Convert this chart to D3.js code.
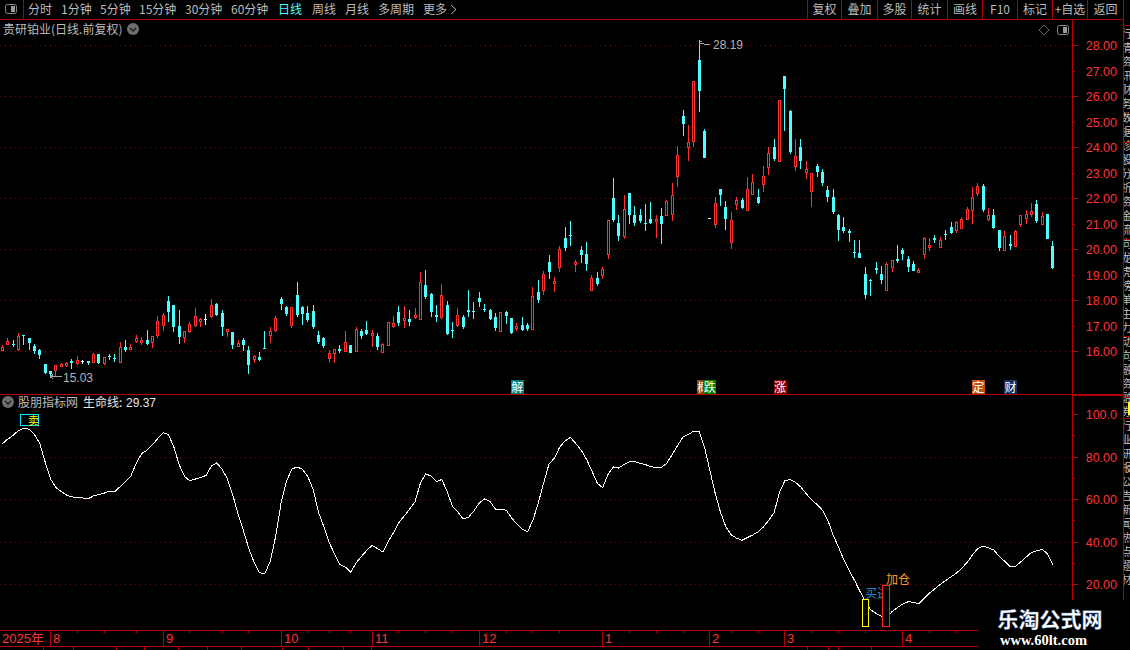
<!DOCTYPE html>
<html><head><meta charset="utf-8">
<script src="https://cdn.jsdelivr.net/npm/d3@7/dist/d3.min.js"></script>
<style>html,body{margin:0;padding:0;background:#000;overflow:hidden}svg{display:block}</style>
</head><body><svg id="c" width="1130" height="650"></svg>
<script>
const opens=[16.01,16.25,16.29,16.04,16.61,16.52,16.21,16.03,15.50,15.22,15.22,15.44,15.43,15.61,15.50,15.60,15.61,15.52,15.88,15.48,15.82,15.74,15.52,16.16,16.07,16.37,16.42,16.45,16.30,16.60,16.99,17.97,17.79,16.99,16.52,16.76,16.99,17.20,17.24,17.35,17.86,17.50,16.80,16.76,16.18,16.45,16.05,15.66,15.77,16.13,
16.60,16.77,18.05,17.74,16.99,18.21,17.74,17.50,17.58,16.64,16.52,15.70,15.90,16.09,15.97,16.25,15.97,16.80,16.84,16.68,16.60,15.90,16.21,16.95,17.54,17.25,17.27,17.31,17.23,18.60,18.25,17.43,17.31,17.82,16.84,16.99,17.35,17.61,17.58,18.09,17.66,17.62,17.35,16.76,17.54,17.31,16.90,17.03,17.03,16.84,
18.33,18.37,19.50,18.69,19.26,20.44,20.56,19.45,19.97,19.82,18.38,18.88,18.96,19.78,22.01,21.03,20.48,22.21,21.35,21.35,21.03,21.19,21.07,21.31,21.32,21.35,22.85,25.23,23.99,24.19,27.42,24.64,21.22,20.95,22.37,21.66,20.25,21.74,21.93,21.50,22.13,22.05,22.52,23.19,24.01,23.42,
26.80,25.42,23.23,24.01,22.99,22.26,23.27,23.03,22.32,22.05,21.35,20.88,20.72,19.90,19.86,19.03,18.77,19.27,19.03,18.37,19.27,19.62,19.97,19.62,19.42,19.12,19.78,20.05,20.44,20.05,20.60,20.88,20.72,20.80,21.15,21.50,22.17,22.48,21.15,21.35,20.76,19.95,20.21,20.09,20.95,21.19,21.35,21.78,20.95,21.39,20.13];
const highs=[16.22,16.51,16.45,16.71,16.64,16.52,16.29,16.09,15.50,15.22,15.46,15.53,15.58,15.70,15.80,15.66,15.62,15.92,15.90,15.77,15.90,15.90,16.35,16.45,16.28,16.63,16.55,16.84,16.60,17.39,17.49,18.17,17.82,17.62,16.80,17.15,17.70,17.31,17.46,18.05,17.90,17.62,16.88,16.76,16.45,16.52,16.21,15.86,15.97,16.80,
16.94,17.39,18.13,17.78,17.74,18.72,17.78,17.78,17.82,16.80,16.56,16.05,16.09,16.25,16.80,16.25,16.95,16.88,17.19,16.84,16.72,16.31,17.15,17.39,17.78,17.78,17.62,17.70,19.11,19.19,18.29,17.82,18.64,17.97,17.15,17.70,17.43,18.40,17.93,18.33,17.86,17.65,17.50,17.54,17.58,17.31,17.11,17.35,17.11,18.52,
18.80,19.15,19.78,18.92,20.13,20.88,21.11,19.58,20.13,20.29,18.99,19.11,19.31,21.15,22.80,21.35,22.13,22.21,21.70,21.58,21.78,21.86,21.35,21.62,21.93,22.60,24.05,25.46,24.88,26.60,28.19,24.72,21.22,22.05,22.37,21.89,21.46,22.05,22.01,22.84,22.95,22.37,23.27,24.01,24.33,25.86,
26.80,25.46,24.33,24.33,23.46,22.99,23.35,23.15,22.48,22.36,21.39,21.27,20.80,20.37,20.37,19.31,18.84,19.50,19.35,19.50,19.58,20.17,20.05,19.74,19.54,19.27,20.48,20.44,20.56,20.48,20.76,21.07,21.11,21.27,21.66,22.44,22.60,22.56,21.62,21.58,20.76,20.72,20.56,20.76,21.35,21.54,21.82,21.93,21.46,21.39,20.33];
const lows=[15.99,16.25,16.16,16.01,16.24,16.05,15.91,15.70,15.12,15.03,15.03,15.43,15.37,15.31,15.46,15.50,15.46,15.52,15.50,15.46,15.66,15.58,15.52,15.97,16.05,16.31,16.25,16.26,16.13,16.54,16.80,17.15,16.76,16.29,16.33,16.72,16.95,16.95,17.03,17.31,17.39,16.60,16.56,16.09,16.16,16.01,15.11,15.54,15.62,16.10,
16.31,16.77,17.62,17.39,16.90,17.35,17.03,17.14,16.88,16.29,16.13,15.58,15.54,15.93,15.97,15.93,15.97,16.48,16.64,16.17,16.05,15.90,16.21,16.90,16.99,16.90,16.99,17.27,17.23,18.05,17.35,17.15,17.27,16.64,16.52,16.95,16.88,17.35,17.27,17.74,17.54,17.23,16.80,16.76,17.07,16.68,16.80,16.80,16.80,16.84,
17.90,18.21,18.84,18.33,19.11,19.94,20.13,19.11,19.46,19.15,18.38,18.56,18.84,19.62,21.07,20.33,20.40,20.99,20.92,21.03,20.72,20.99,20.44,20.21,21.32,21.11,22.44,24.44,23.47,24.01,25.35,23.58,21.22,20.84,21.70,20.76,20.01,21.54,21.58,21.50,22.13,21.78,22.25,22.92,23.46,23.42,
24.64,23.74,23.07,23.15,22.76,21.66,22.84,22.48,21.86,21.39,20.32,20.64,20.29,19.66,19.66,18.05,18.17,19.03,18.64,18.37,19.11,19.46,19.58,19.11,19.15,19.07,19.62,19.93,20.25,20.05,20.37,20.60,20.64,20.80,21.15,20.99,22.09,21.46,21.10,20.80,19.93,19.95,19.97,20.09,20.88,20.99,21.27,21.03,20.95,20.40,19.23];
const closes=[16.17,16.41,16.24,16.60,16.59,16.33,16.00,15.84,15.16,15.10,15.45,15.50,15.54,15.53,15.66,15.60,15.54,15.88,15.54,15.77,15.79,15.71,16.14,16.05,16.16,16.52,16.45,16.29,16.59,17.19,17.41,17.52,16.93,16.56,16.80,17.07,17.39,17.26,17.24,17.82,17.43,16.95,16.88,16.25,16.33,16.25,15.46,15.82,15.66,16.10,
16.78,17.29,17.86,17.45,17.74,17.42,17.46,17.23,16.94,16.37,16.21,15.93,16.08,16.01,16.37,15.93,16.88,16.59,16.68,16.72,16.17,16.27,17.15,17.10,17.11,17.31,17.15,17.43,18.71,18.13,17.54,17.35,18.21,16.68,16.81,17.43,16.95,17.54,17.56,17.93,17.62,17.27,16.90,17.54,17.39,16.72,16.99,16.84,16.88,18.17,
18.01,19.03,19.11,18.73,20.01,20.05,20.54,19.50,19.78,19.42,18.88,18.63,19.23,21.15,21.15,20.52,21.58,21.35,21.03,21.11,21.01,21.03,21.19,20.99,21.89,22.13,23.70,24.92,24.21,26.60,26.21,23.58,21.22,21.82,22.13,21.19,21.15,21.93,21.62,22.37,22.64,21.82,22.88,23.78,23.54,25.86,
26.29,23.82,23.66,23.46,23.15,22.99,23.03,22.60,22.05,21.46,20.76,20.72,20.64,19.87,19.66,18.21,18.75,19.19,18.80,19.42,19.58,19.54,19.82,19.31,19.15,19.19,20.44,20.16,20.37,20.37,20.57,20.64,21.07,21.19,21.58,22.05,22.48,21.54,21.35,20.84,20.05,20.52,20.13,20.72,21.35,21.39,21.50,21.11,21.31,20.40,19.27];
const lifeLine=[86.2,88.4,90.1,92.5,93.4,93.1,90.6,86.3,77.6,69.7,65.6,63.7,62.1,61.2,61.0,60.7,60.3,61.7,62.3,63.0,63.9,63.7,66.1,68.6,71.1,77.2,81.6,83.2,85.7,88.7,91.4,90.6,84.7,76.4,70.8,68.8,69.6,70.4,71.3,75.7,77.2,74.3,69.7,62.0,53.1,45.2,36.9,30.2,25.5,25.2,
31.0,42.6,58.2,68.5,74.3,75.3,74.2,70.8,64.7,53.9,47.1,39.7,34.2,29.4,28.2,25.8,30.1,33.2,36.1,38.4,36.9,35.3,40.2,44.5,49.2,52.3,55.5,58.9,67.7,72.1,71.0,68.5,69.4,63.7,56.6,54.1,50.8,51.7,54.7,58.4,60.3,59.0,55.5,55.2,55.0,51.4,48.4,46.0,44.8,50.3,
58.4,67.8,76.8,79.4,84.7,87.6,89.2,86.3,83.2,78.9,73.4,67.7,65.5,71.8,75.3,74.8,76.5,77.8,77.8,77.0,76.4,75.4,75.1,75.1,77.2,81.3,85.4,89.5,90.6,92.2,92.0,84.7,73.7,62.9,53.9,47.1,43.3,41.8,40.8,42.1,43.3,44.8,47.1,50.3,53.9,63.4,
68.9,69.4,68.0,65.8,62.6,59.9,57.6,55.0,50.3,43.3,37.6,31.6,26.6,21.9,16.8,12.0,8.1,6.4,5.0,4.2,7.3,9.2,10.8,11.9,11.6,11.0,13.6,16.0,18.0,20.1,21.9,23.6,25.3,27.7,30.4,33.9,37.0,38.0,37.2,36.2,33.1,31.0,28.5,28.5,30.6,32.9,35.1,35.9,36.5,34.5,29.37];
const priceMajor=[16,18,20,22,24,26,28];
const priceMinor=[17,19,21,23,25,27];
const priceLabels=[16,17,18,19,20,21,22,23,24,25,26,27,28];
const lifeMajor=[20,40,60,80,100];
const lifeMinor=[30,50,70,90];
const monthNames=["8","9","10","11","12","1","2","3","4"];
const monthDays=[9,30,52,69,89,112,132,146,168];
const weekDays=[14,19,25,35,41,46,57,61,65,74,79,84,94,99,104,117,122,127,136,141,151,156,161,173,178];
const tagNames=["解","概","跌","涨","定","财"];
const tagDays=[96,130.7,131.9,145,182,188];
const tagColors=["#008080","#8b4a00","#008000","#8b0000","#c8500f","#0f3060"];
const signalDays=[161,165];
const signalTops=[13.3,20];
const signalColors=["#ffff00","#ff2020"];
const navNames=["分时","1分钟","5分钟","15分钟","30分钟","60分钟","日线","周线","月线","多周期","更多"];
const navLeft=[28,61,100,139,185,231,278,312,345,378,423];
const toolNames=["复权","叠加","多股","统计","画线","F10","标记","+自选","返回"];
const toolEdges=[807,841,877,911,947,982,1017,1052,1087,1123];

const CJK='"Noto Sans CJK SC","Liberation Sans",sans-serif';
const NUM='"Liberation Sans",Arial,sans-serif';
const RED='#b30000',NUMRED='#ff3333',CY='#4dffff',UP='#ff3232';
const svg=d3.select('#c');
svg.append('rect').attr('width',1130).attr('height',650).attr('fill','#000');
const x=d3.scaleLinear().domain([0,196]).range([2.3,1052.9]);
const y=d3.scaleLinear().domain([16,28]).range([351.5,45.5]);
const y2=d3.scaleLinear().domain([20,100]).range([584.5,414.5]);
const px=i=>Math.floor(x(i));
const crisp=s=>s.attr('shape-rendering','crispEdges');
function txt(t,xx,yy,o={}){return svg.append('text').text(t).attr('x',xx).attr('y',yy)
 .attr('font-family',o.f||CJK).attr('font-size',o.s||12).attr('fill',o.c||'#bcbcbc')
 .attr('text-anchor',o.a||'start').attr('font-weight',o.w||'normal');}
function hl(x1,x2,yy,c=RED){crisp(svg.append('line').attr('x1',x1).attr('x2',x2).attr('y1',yy).attr('y2',yy).attr('stroke',c));}
function vl(xx,y1,y2b,c=RED){crisp(svg.append('line').attr('x1',xx).attr('x2',xx).attr('y1',y1).attr('y2',y2b).attr('stroke',c));}

// grid
const grid=svg.append('g').attr('stroke','#8a0000').attr('stroke-dasharray','1,4');
grid.selectAll('.a').data(priceMajor).join('line').attr('x1',0).attr('x2',1072).attr('y1',d=>y(d)).attr('y2',d=>y(d)).attr('shape-rendering','crispEdges');
grid.selectAll('.b').data(lifeMajor.slice(0,4)).join('line').attr('x1',0).attr('x2',1072).attr('y1',d=>y2(d)).attr('y2',d=>y2(d)).attr('shape-rendering','crispEdges');

// candles
const days=d3.range(opens.length);
const g=svg.append('g').attr('shape-rendering','crispEdges');
const colorOf=i=>closes[i]===opens[i]?'#ffffff':(closes[i]>opens[i]?UP:CY);
const upDays=days.filter(i=>closes[i]>opens[i]);
g.selectAll('.w').data(days).join('rect').attr('x',px).attr('width',1)
 .attr('y',i=>Math.floor(y(highs[i]))).attr('height',i=>Math.max(1,Math.round(y(lows[i])-y(highs[i])))).attr('fill',colorOf);
g.selectAll('.bd').data(days.filter(i=>closes[i]<opens[i])).join('rect')
 .attr('x',i=>px(i)-1).attr('width',3).attr('y',i=>Math.floor(y(opens[i]))).attr('height',i=>Math.max(1,Math.round(y(closes[i])-y(opens[i])))).attr('fill',CY);
g.selectAll('.bu').data(upDays).join('rect')
 .attr('x',i=>px(i)-1).attr('width',3).attr('y',i=>Math.floor(y(closes[i]))).attr('height',i=>Math.max(3,Math.round(y(opens[i])-y(closes[i])))).attr('fill',UP);
g.selectAll('.bi').data(upDays).join('rect')
 .attr('x',px).attr('width',1).attr('y',i=>Math.floor(y(closes[i]))+1).attr('height',i=>Math.max(1,Math.round(y(opens[i])-y(closes[i]))-2)).attr('fill','#000');
g.selectAll('.bw').data(days.filter(i=>closes[i]===opens[i])).join('rect')
 .attr('x',i=>px(i)-1).attr('width',3).attr('y',i=>Math.floor(y(opens[i]))).attr('height',1).attr('fill','#fff');

// high / low notes
const hi=d3.greatestIndex(highs),lo=d3.leastIndex(lows);
svg.append('path').attr('fill','none').attr('stroke','#aaa').attr('shape-rendering','crispEdges')
 .attr('d',`M${px(hi)},${y(highs[hi])+4}V${y(highs[hi])+0.5}H${px(hi)+3}M${px(hi)+1},${y(highs[hi])+3}H${px(hi)+4}L${px(hi)+7},${y(highs[hi])+4}H${px(hi)+11}`);
txt(d3.format('.2f')(highs[hi]),px(hi)+14,y(highs[hi])+8.5,{f:NUM,c:'#b4b4b4'});
svg.append('path').attr('fill','none').attr('stroke','#aaa').attr('shape-rendering','crispEdges')
 .attr('d',`M${px(lo)},${y(lows[lo])+0.5}h12M${px(lo)},${y(lows[lo])+0.5}l3,-2M${px(lo)},${y(lows[lo])+0.5}l3,2`);
txt(d3.format('.2f')(lows[lo]),px(lo)+13,y(lows[lo])+6,{f:NUM,c:'#b4b4b4'});

// event tags
tagNames.forEach((t,i)=>{const c=x(tagDays[i]);
 crisp(svg.append('rect').attr('x',c-6).attr('y',380).attr('width',13).attr('height',14).attr('fill',tagColors[i]));
 txt(t,c+.5,391.5,{a:'middle',c:'#fff'});});

// life line
svg.append('path').datum(lifeLine).attr('fill','none').attr('stroke','#fff').attr('shape-rendering','crispEdges')
 .attr('d',d3.line().x((d,i)=>x(i)).y(d=>y2(d)));

// signals
txt('买进',865,598,{c:'#1f95cf'});
signalDays.forEach((d,i)=>{const w=i?8:7,l=px(d)-(i?4:3),t=Math.round(y2(signalTops[i])),h=Math.round(y2(0))-t;
 crisp(svg.append('rect').attr('x',l).attr('y',t).attr('width',w).attr('height',h).attr('fill',signalColors[i]));
 crisp(svg.append('rect').attr('x',l+1).attr('y',t+1).attr('width',w-2).attr('height',h-2).attr('fill','#000'));});
txt('加仓',886,584,{c:'#ff9a1f'});
crisp(svg.append('rect').attr('x',20.5).attr('y',414.5).attr('width',18).attr('height',11).attr('fill','none').attr('stroke','#00e5ff'));
txt('卖',28,425,{c:'#ffff00',s:11});

// frame
hl(0,1123,19.5);hl(0,1123,394.5);vl(23.5,0,19);
vl(1072.5,19,600);vl(1123.5,0,600);
crisp(svg.append('rect').attr('x',1072).attr('y',394).attr('width',52).attr('height',2).attr('fill',RED));
toolEdges.forEach(e=>vl(e+0.5,0,19));

// toolbar
navNames.forEach((t,i)=>txt(t,navLeft[i],14,{c:t==='日线'?'#4dffff':'#bcbcbc'}));
svg.append('path').attr('d','M451,5l5,4.5l-5,4.5').attr('fill','none').attr('stroke','#bbb');
toolNames.forEach((t,i)=>txt(t,(toolEdges[i]+toolEdges[i+1])/2+0.5,14,{a:'middle'}));
function panelIcon(ix,iy){
 svg.append('rect').attr('x',ix+.5).attr('y',iy+.5).attr('width',11).attr('height',9).attr('rx',2).attr('fill','none').attr('stroke','#8a8a8a');
 crisp(svg.append('rect').attr('x',ix+6).attr('y',iy+2).attr('width',4).attr('height',6).attr('fill','#9a9a9a'));}
panelIcon(5,4);panelIcon(1057,25);
svg.append('path').attr('d','M1044,25l5,5l-5,5l-5,-5z').attr('fill','none').attr('stroke','#666');
function dropIcon(cx,cy){svg.append('circle').attr('cx',cx).attr('cy',cy).attr('r',6).attr('fill','#6e6e6e');
 svg.append('path').attr('d',`M${cx-3},${cy-1}l3,3l3,-3`).attr('fill','none').attr('stroke','#1a1a1a').attr('stroke-width',1.3);}
txt('贵研铂业(日线.前复权)',3,34,{});dropIcon(133,29);
dropIcon(8,402);
txt('股朋指标网',18,407,{});txt('生命线:',83,407,{c:'#e8e8e8'});
txt(d3.format('.2f')(lifeLine[lifeLine.length-1]),126,407,{f:NUM,c:'#e8e8e8'});

// y axes
priceLabels.forEach(v=>txt(d3.format('.2f')(v),1117,y(v)+4.5,{f:NUM,c:NUMRED,a:'end',s:12.5}));
priceMajor.forEach(v=>hl(1072,1078,y(v)));priceMinor.forEach(v=>hl(1072,1075,y(v)));
lifeMajor.forEach(v=>{hl(1072,1078,y2(v));txt(v===100?'100.0':d3.format('.2f')(v),1117,y2(v)+4.5,{f:NUM,c:NUMRED,a:'end',s:12.5});});
lifeMinor.forEach(v=>hl(1072,1075,y2(v)));

// date axis
hl(0,978,630.5);hl(0,978,646.5);
txt('2025年',2,643,{c:NUMRED,s:13,f:'"Liberation Sans","Noto Sans CJK SC",sans-serif'});
monthDays.forEach((d,i)=>{vl(px(d)+.5,630,646);txt(monthNames[i],px(d)+3,643,{f:NUM,c:NUMRED,s:13});});
weekDays.forEach(d=>vl(px(d)+.5,630,633));
[43,73,116,144,178,207,241,282,308,343,371,807,828,838,871].forEach(e=>vl(e+.5,646,650));

// right side strip, clipped tabs
const defs=svg.append('defs');
defs.append('clipPath').attr('id','strip').append('rect').attr('x',1124).attr('y',20).attr('width',6).attr('height',580);
const strip=svg.append('g').attr('clip-path','url(#strip)');
const stripText='行情资讯财务数据诊股分析资金流向龙虎榜单主力动向融资融券行业研报公告新闻热点题材';
[...stripText].forEach((ch,i)=>{let yy=38+i*14;
 strip.append('text').text(ch).attr('x',1121).attr('y',yy).attr('font-size',11).attr('font-family',CJK).attr('fill','#c0c0c0');});
[25,142,239,336,397,418].forEach(v=>hl(1124,1130,v+.5));
crisp(svg.append('rect').attr('x',1128).attr('y',402).attr('width',2).attr('height',13).attr('fill','#ffff00'));

// watermark
svg.append('rect').attr('x',978).attr('y',600).attr('width',152).attr('height',50).attr('fill','#000');
txt('乐淘公式网',997.5,627,{s:21,w:'bold',c:'#ffffff'}).attr('stroke','#5a8ac8').attr('stroke-width',.3);
txt('www.60lt.com',1000,645,{f:'"Liberation Serif",serif',s:14.5,w:'bold',c:'#ffffff'});
</script></body></html>
